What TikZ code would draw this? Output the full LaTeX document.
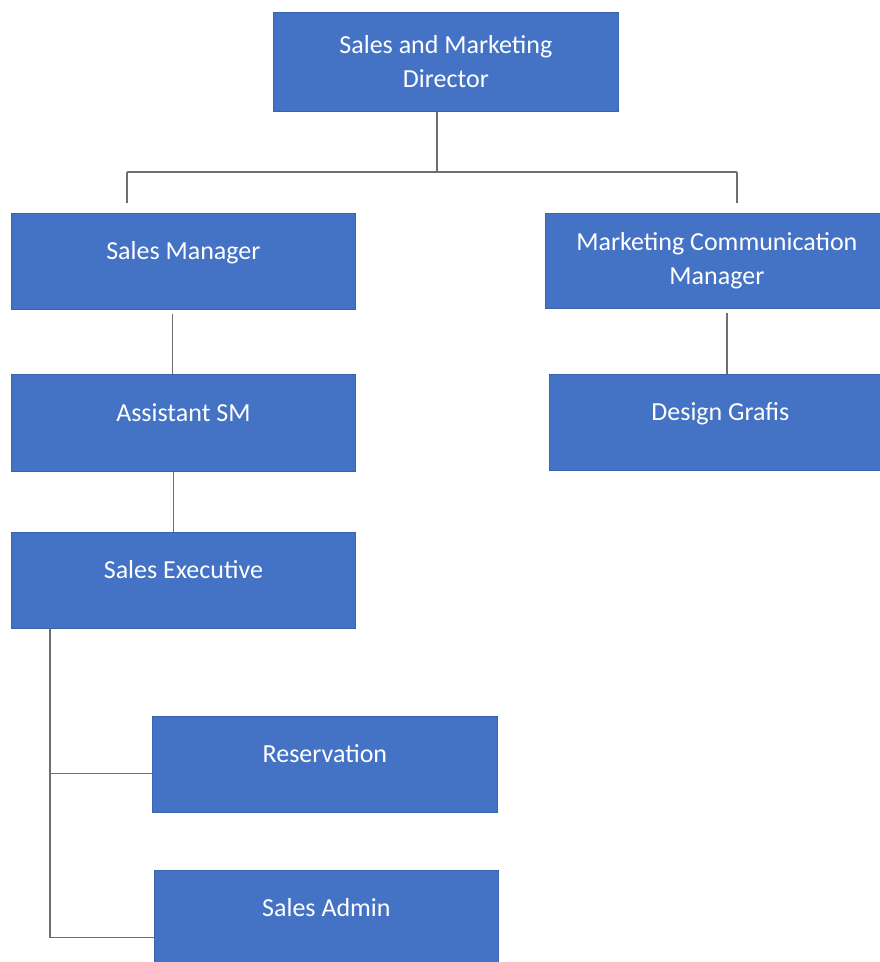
\documentclass[tikz,border=0pt]{standalone}
\usepackage{fontspec}
\setmainfont{Carlito}
\usetikzlibrary{positioning}
\definecolor{boxblue}{HTML}{4472C4}
\definecolor{boxedge}{HTML}{3A62AD}
\definecolor{linegray}{HTML}{6E6E6E}
\tikzset{
  orgbox/.style={rectangle, anchor=north west, fill=boxblue, draw=boxedge, line width=0.8pt,
    text=white, font=\fontsize{26}{34}\selectfont, inner sep=0pt, align=center},
  onebox/.style={orgbox, text height=17pt, text depth=20pt},
  conn/.style={draw=linegray, line width=1.4pt},
}
\begin{document}
\begin{tikzpicture}[x=1pt, y=-1pt]
\useasboundingbox (0,0) rectangle (880,962);
\fill[white] (0,0) rectangle (880,962);
\clip (0,0) rectangle (880,962);

\node[orgbox, minimum width=345pt, minimum height=99pt] (dir) at (273,12) {Sales and Marketing\\Director};
\node[onebox, minimum width=344pt, minimum height=96pt] (sm) at (11,213) {Sales Manager};
\node[orgbox, minimum width=343pt, minimum height=95pt] (mcm) at (545,213) {Marketing Communication\\Manager};
\node[onebox, minimum width=344pt, minimum height=97pt] (asm) at (11,374) {Assistant SM};
\node[onebox, minimum width=342pt, minimum height=96pt] (dg) at (549,374) {Design Grafis};
\node[onebox, minimum width=344pt, minimum height=96pt] (se) at (11,532) {Sales Executive};
\node[onebox, minimum width=345pt, minimum height=96pt] (res) at (152,716) {Reservation};
\node[onebox, minimum width=344pt, minimum height=96pt] (sa) at (154,870) {Sales Admin};

% top bus
\coordinate (busM) at (437,172);
\coordinate (busL) at (127,172);
\coordinate (busR) at (737,172);
\draw[conn] (busM |- dir.south) -- (busM);
\draw[conn] (busL) -- (busR);
\draw[conn, shorten >=10pt] (busL) -- (busL |- sm.north);
\draw[conn, shorten >=10pt] (busR) -- (busR |- mcm.north);

% sales chain
\draw[conn, shorten <=4pt] ([xshift=-11pt]sm.south) -- ([xshift=-11pt]sm.south |- asm.north);
\draw[conn] ([xshift=-10pt]asm.south) -- ([xshift=-10pt]asm.south |- se.north);
\draw[conn, shorten <=4pt] ([xshift=10pt]mcm.south) -- ([xshift=10pt]mcm.south |- dg.north);

% sales executive trunk
\coordinate (trunk) at (50,628);
\draw[conn] (trunk) |- ([yshift=-9pt]res.west);
\draw[conn] (trunk) |- ([yshift=-19pt]sa.west);
\end{tikzpicture}
\end{document}
